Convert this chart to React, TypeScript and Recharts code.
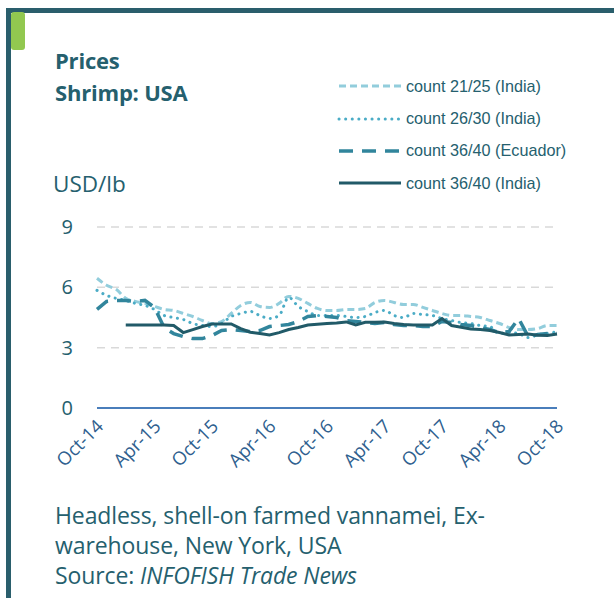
import React from 'react';
import { LineChart, Line, XAxis, YAxis, CartesianGrid } from 'recharts';

const months = [
  'Oct-14', 'Nov-14', 'Dec-14', 'Jan-15', 'Feb-15', 'Mar-15', 'Apr-15', 'May-15', 'Jun-15', 'Jul-15', 'Aug-15', 'Sep-15',
  'Oct-15', 'Nov-15', 'Dec-15', 'Jan-16', 'Feb-16', 'Mar-16', 'Apr-16', 'May-16', 'Jun-16', 'Jul-16', 'Aug-16', 'Sep-16',
  'Oct-16', 'Nov-16', 'Dec-16', 'Jan-17', 'Feb-17', 'Mar-17', 'Apr-17', 'May-17', 'Jun-17', 'Jul-17', 'Aug-17', 'Sep-17',
  'Oct-17', 'Nov-17', 'Dec-17', 'Jan-18', 'Feb-18', 'Mar-18', 'Apr-18', 'May-18', 'Jun-18', 'Jul-18', 'Aug-18', 'Sep-18',
  'Oct-18',
];

const count2125India = [
  6.45, 6.1, 5.9, 5.45, 5.3, 5.2, 5.05, 4.9, 4.85, 4.7, 4.55, 4.35,
  4.2, 4.3, 4.7, 5.1, 5.25, 5.05, 5.0, 5.2, 5.55, 5.45, 5.2, 4.95,
  4.85, 4.85, 4.9, 4.9, 4.95, 5.25, 5.35, 5.25, 5.15, 5.15, 5.0, 4.85,
  4.7, 4.6, 4.6, 4.55, 4.5, 4.35, 4.2, 4.0, 3.9, 3.9, 3.95, 4.1,
  4.1,
];

const count2630India = [
  5.85, 5.6, 5.45, 5.35, 5.2, 5.1, 4.9, 4.6, 4.5, 4.4, 4.2, 4.1,
  4.05, 4.2, 4.55, 4.7, 4.8, 4.6, 4.45, 4.6, 5.5, 5.05, 4.8, 4.6,
  4.6, 4.6, 4.55, 4.5, 4.55, 4.75, 4.85, 4.6, 4.5, 4.7, 4.65, 4.6,
  4.45, 4.35, 4.25, 4.2, 4.1, 4.05, 3.7, 3.75, 3.7, 3.5, 3.65, 3.7,
  3.8,
];

const count3640Ecuador = [
  4.9, 5.3, 5.35, 5.35, 5.3, 5.35, 5.0, 4.0, 3.7, 3.55, 3.45, 3.45,
  3.6, 3.85, 3.9, 3.85, 3.8, 3.85, 4.05, 4.1, 4.15, 4.3, 4.55, 4.6,
  4.55, 4.5, 4.35, 4.3, 4.25, 4.2, 4.25, 4.15, 4.1, 4.1, 4.05, 4.05,
  4.3, 4.25, 4.15, 4.1, 4.0, 3.9, 3.75, 3.8, 4.45, 3.55, 3.65, 3.7,
  3.7,
];

const count3640India = [
  null, null, null, 4.13, 4.13, 4.13, 4.13, 4.13, 4.1, 3.75, 3.9, 4.05,
  4.18, 4.18, 4.18, 3.95, 3.77, 3.7, 3.63, 3.75, 3.9, 4.0, 4.13, 4.17,
  4.2, 4.23, 4.28, 4.13, 4.26, 4.27, 4.28, 4.2, 4.15, 4.13, 4.13, 4.13,
  4.45, 4.1, 4.02, 3.93, 3.9, 3.85, 3.75, 3.63, 3.65, 3.68, 3.62, 3.6,
  3.68,
];

const yTicks = [0, 3, 6, 9];

const data = months.map((m, i) => ({
  month: m,
  a: count2125India[i],
  b: count2630India[i],
  c: count3640Ecuador[i],
  d: count3640India[i],
}));

const teal = '#25606e';
const font = '"Open Sans", sans-serif';

const seriesStyle: Record<string, { stroke: string; width: number; dash?: string; cap?: 'round' | 'butt'; type: 'monotone' | 'linear' }> = {
  a: { stroke: '#92cddc', width: 3, dash: '7 4', type: 'monotone' },
  b: { stroke: '#4bacc6', width: 3, dash: '0.1 6.5', cap: 'round', type: 'monotone' },
  c: { stroke: '#31859c', width: 3.5, dash: '14 9', type: 'linear' },
  d: { stroke: '#215a68', width: 3, type: 'linear' },
};

const names: Record<string, string> = {
  a: 'count 21/25 (India)',
  b: 'count 26/30 (India)',
  c: 'count 36/40 (Ecuador)',
  d: 'count 36/40 (India)',
};

const LegendBox = () => (
  <div style={{ position: 'absolute', left: 337, top: 70 }}>
    {['a', 'b', 'c', 'd'].map((k) => {
      const s = seriesStyle[k];
      return (
        <div key={k} style={{ display: 'flex', alignItems: 'center', height: 32.4 }}>
          <svg width={66} height={10}>
            <line x1={2} y1={5} x2={64} y2={5} stroke={s.stroke} strokeWidth={s.width}
              strokeDasharray={s.dash} strokeLinecap={s.cap || 'butt'} />
          </svg>
          <span style={{ fontFamily: '"Liberation Sans", Arial, sans-serif', fontSize: 16.2, color: teal, marginLeft: 3 }}>
            {names[k]}
          </span>
        </div>
      );
    })}
  </div>
);

const XTick = (props: any) => {
  const { x, y, payload } = props;
  return (
    <text x={x + 4} y={y + 8} transform={`rotate(-45, ${x + 4}, ${y + 8})`} textAnchor="end"
      fill="#2f5f8f" fontSize={18.5} fontFamily={font} dominantBaseline="middle">
      {payload.value}
    </text>
  );
};

export default function App() {
  return (
    <div style={{ position: 'absolute', left: 0, top: 0, width: 614, height: 598, background: '#fff', overflow: 'hidden' }}>
      <div style={{ position: 'absolute', left: 6, top: 8, width: 608, height: 5, background: '#2a5e6c' }} />
      <div style={{ position: 'absolute', left: 6, top: 8, width: 5, height: 590, background: '#2a5e6c' }} />
      <div style={{ position: 'absolute', left: 11, top: 12, width: 14, height: 38, background: '#92c850', borderRadius: 3 }} />

      <div style={{ position: 'absolute', left: 55, top: 44, fontFamily: font, fontWeight: 700, fontSize: 22, lineHeight: '32px', color: teal, letterSpacing: -0.2 }}>
        Prices<br />Shrimp: USA
      </div>

      <div style={{ position: 'absolute', left: 53, top: 168, fontFamily: font, fontSize: 22.5, color: teal }}>
        USD/lb
      </div>

      <LegendBox />

      <LineChart width={614} height={598} data={data} margin={{ top: 227, right: 57, bottom: 130, left: 57 }}
        style={{ position: 'absolute', left: 0, top: 0 }}>
        <CartesianGrid vertical={false} stroke="#d9d9d9" strokeWidth={1.5} strokeDasharray="8 6" />
        <XAxis dataKey="month" interval={5} height={60} tickLine={false} axisLine={{ stroke: '#4a7ebb', strokeWidth: 2 }}
          tick={<XTick />} />
        <YAxis domain={[0, 9]} ticks={yTicks} width={40} axisLine={false} tickLine={false} tickSize={0} tickMargin={24}
          tick={{ fill: teal, fontSize: 20, fontFamily: font }} />
        {['a', 'b', 'c', 'd'].map((k) => {
          const s = seriesStyle[k];
          return (
            <Line key={k} dataKey={k} name={names[k]} type={s.type} stroke={s.stroke} strokeWidth={s.width}
              strokeDasharray={s.dash} strokeLinecap={s.cap || 'butt'} dot={false} activeDot={false}
              isAnimationActive={false} />
          );
        })}
      </LineChart>

      <div style={{ position: 'absolute', left: 55, top: 500, fontFamily: font, fontSize: 23, lineHeight: '30px', color: teal, letterSpacing: -0.1 }}>
        Headless, shell-on farmed vannamei, Ex-<br />
        warehouse, New York, USA<br />
        Source: <i>INFOFISH Trade News</i>
      </div>
    </div>
  );
}
